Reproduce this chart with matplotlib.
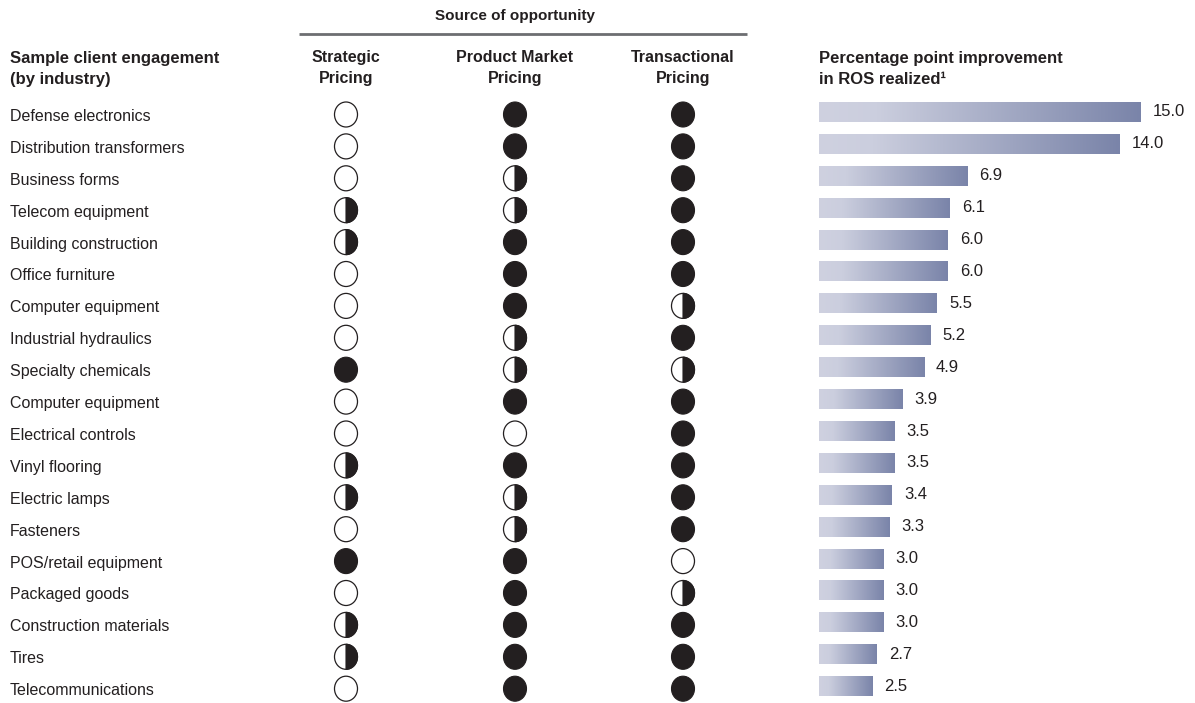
import numpy as np
import matplotlib
matplotlib.use("Agg")
import matplotlib.pyplot as plt
from matplotlib.patches import Ellipse, Polygon
from matplotlib.colors import LinearSegmentedColormap

# données : 0 = vide, 1 = demi, 2 = plein
industries = ["Defense electronics", "Distribution transformers", "Business forms",
              "Telecom equipment", "Building construction", "Office furniture",
              "Computer equipment", "Industrial hydraulics", "Specialty chemicals",
              "Computer equipment", "Electrical controls", "Vinyl flooring",
              "Electric lamps", "Fasteners", "POS/retail equipment", "Packaged goods",
              "Construction materials", "Tires", "Telecommunications"]
strategic = [0, 0, 0, 1, 1, 0, 0, 0, 2, 0, 0, 1, 1, 0, 2, 0, 1, 1, 0]
product_market = [2, 2, 1, 1, 2, 2, 2, 1, 1, 2, 0, 2, 1, 1, 2, 2, 2, 2, 2]
transactional = [2, 2, 2, 2, 2, 2, 1, 2, 1, 2, 2, 2, 2, 2, 0, 1, 2, 2, 2]
ros_improvement = [15.0, 14.0, 6.9, 6.1, 6.0, 6.0, 5.5, 5.2, 4.9, 3.9,
                   3.5, 3.5, 3.4, 3.3, 3.0, 3.0, 3.0, 2.7, 2.5]

col_titles = ["Strategic\nPricing", "Product Market\nPricing", "Transactional\nPricing"]

# mise en page (pixels)
W, H = 1195, 703
row0, pitch = 114.5, 31.9
col_x = [346, 515, 683]
bar_x0, px_per_pt, bar_h = 819, 21.45, 20
ink = "#231f20"

sans = ["Liberation Sans", "DejaVu Sans"]

fig = plt.figure(figsize=(W / 100, H / 100), dpi=100)
ax = fig.add_axes([0, 0, 1, 1])
ax.set_xlim(0, W)
ax.set_ylim(H, 0)
ax.axis("off")

# en-têtes
ax.text(10, 69, "Sample client engagement\n(by industry)", ha="left", va="center",
        fontsize=12, fontweight="bold", family=sans, color=ink, linespacing=1.45)
ax.text(515, 16, "Source of opportunity", ha="center", va="center",
        fontsize=11, fontweight="bold", family=sans, color=ink)
ax.plot([299, 747], [33.5, 33.5], color="#6d6e71", lw=2, solid_capstyle="butt")
for x, t in zip(col_x, col_titles):
    ax.text(x, 68, t, ha="center", va="center", fontsize=11.5, fontweight="bold",
            family=sans, color=ink, linespacing=1.45)
ax.text(bar_x0, 69, "Percentage point improvement\nin ROS realized\u00b9", ha="left",
        va="center", fontsize=12, fontweight="bold", family=sans, color=ink,
        linespacing=1.45)


def draw_marker(cx, cy, state, a=11.5, b=12.5):
    if state == 2:
        ax.add_patch(Ellipse((cx, cy), 2 * a, 2 * b, facecolor=ink, edgecolor=ink, lw=0.8))
        return
    ax.add_patch(Ellipse((cx, cy), 2 * a, 2 * b, facecolor="white", edgecolor=ink, lw=0.9))
    if state == 1:
        th = np.linspace(-np.pi / 2, np.pi / 2, 60)
        pts = np.column_stack([cx + a * np.cos(th), cy + b * np.sin(th)])
        ax.add_patch(Polygon(pts, closed=True, facecolor=ink, edgecolor=ink, lw=0.8))


cmap = LinearSegmentedColormap.from_list(
    "ros", [(0, "#cfd1e0"), (0.18, "#cbcede"), (1, "#7a84a9")])
grad = np.linspace(0, 1, 256).reshape(1, -1)

for i, name in enumerate(industries):
    y = row0 + i * pitch
    ax.text(10, y + 2, name, ha="left", va="center", fontsize=11.5,
            family=sans, color=ink)
    for x, states in zip(col_x, [strategic, product_market, transactional]):
        draw_marker(x, y, states[i])
    v = ros_improvement[i]
    yb = y - 2.5
    x1 = bar_x0 + v * px_per_pt
    ax.imshow(grad, cmap=cmap, aspect="auto", interpolation="bilinear",
              extent=[bar_x0, x1, yb + bar_h / 2, yb - bar_h / 2])
    ax.text(x1 + 12, yb, f"{v:.1f}", ha="left", va="center", fontsize=12,
            family=sans, color=ink)

ax.set_xlim(0, W)
ax.set_ylim(H, 0)

fig.savefig("out.png", dpi=100, facecolor="white")
